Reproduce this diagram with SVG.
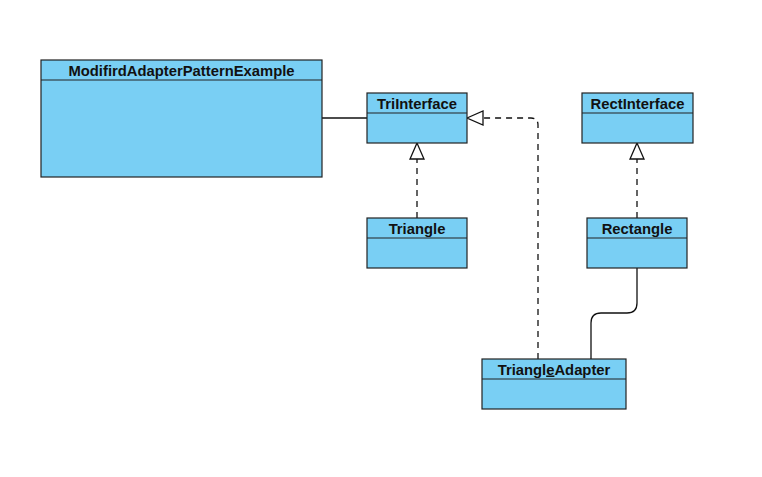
<svg xmlns="http://www.w3.org/2000/svg" width="762" height="477" viewBox="0 0 762 477">
<style>
.box{fill:#79CFF4;stroke:#222;stroke-width:1.2}
.div{stroke:#222;stroke-width:1.2}
.t{font-family:"Liberation Sans",Arial,sans-serif;font-weight:bold;font-size:14.8px;fill:#111;text-anchor:middle}
.c{fill:none;stroke:#111;stroke-width:1.3}
.d{stroke-dasharray:6,5}
.hd{fill:#fff;stroke:#111;stroke-width:1.3}
</style>
<rect width="762" height="477" fill="#fff"/>
<g id="connectors">
<path class="c" d="M322,118 H367"/>
<path class="c d" d="M538,359 V125 Q538,118 531,118 H483"/>
<polygon class="hd" points="467,118 483,111 483,125"/>
<path class="c d" d="M417,218 V159"/>
<polygon class="hd" points="417,143 410,159 424,159"/>
<path class="c d" d="M637,218 V159"/>
<polygon class="hd" points="637,143 630,159 644,159"/>
<path class="c" d="M637,268 V303 Q637,313 627,313 H601 Q591,313 591,323 V359"/>
</g>
<g id="ModifirdAdapterPatternExample">
<rect class="box" x="41" y="60" width="281" height="117"/>
<line class="div" x1="41" y1="80" x2="322" y2="80"/>
<text class="t" x="181.5" y="75.5">ModifirdAdapterPatternExample</text>
</g>
<g id="TriInterface">
<rect class="box" x="367" y="93" width="100" height="50"/>
<line class="div" x1="367" y1="113" x2="467" y2="113"/>
<text class="t" x="417" y="108.5">TriInterface</text>
</g>
<g id="Triangle">
<rect class="box" x="367" y="218" width="100" height="50"/>
<line class="div" x1="367" y1="238" x2="467" y2="238"/>
<text class="t" x="417" y="233.5">Triangle</text>
</g>
<g id="RectInterface">
<rect class="box" x="582" y="93" width="111" height="50"/>
<line class="div" x1="582" y1="113" x2="693" y2="113"/>
<text class="t" x="637.5" y="108.5">RectInterface</text>
</g>
<g id="Rectangle">
<rect class="box" x="587" y="218" width="100" height="50"/>
<line class="div" x1="587" y1="238" x2="687" y2="238"/>
<text class="t" x="637" y="233.5">Rectangle</text>
</g>
<g id="TriangleAdapter">
<rect class="box" x="482" y="359" width="144" height="50"/>
<line class="div" x1="482" y1="379" x2="626" y2="379"/>
<text class="t" x="554" y="374.5">Triangl<tspan text-decoration="underline">e</tspan>Adapter</text>
</g>
</svg>
